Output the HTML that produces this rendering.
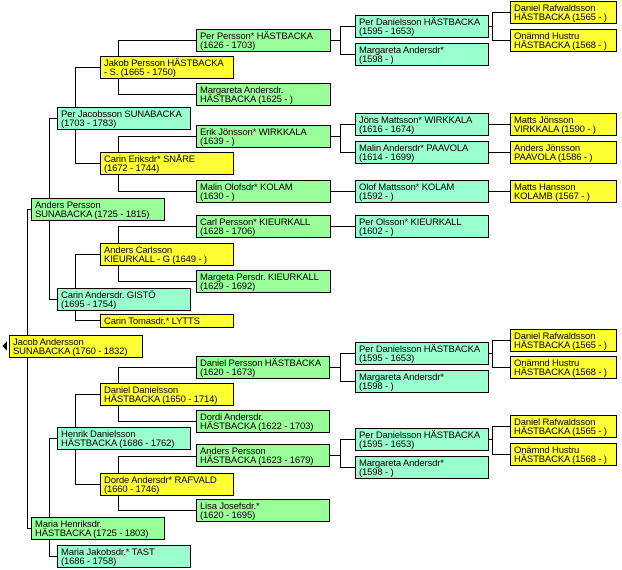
<!DOCTYPE html>
<html><head><meta charset="utf-8"><style>
body{margin:0;background:#fff;width:622px;height:570px;position:relative;overflow:hidden;font-family:"Liberation Sans",sans-serif}
.b{position:absolute;box-sizing:border-box;border:1px solid #000;font-size:9.5px;line-height:9px;padding:2px 0 0 3px;white-space:nowrap;color:#000;letter-spacing:-0.15px;overflow:hidden}
.g{background:#99ff99}.m{background:#99ffcc}.y{background:#ffff33}
svg{position:absolute;left:0;top:0}
</style></head><body>
<svg width="622" height="570" stroke="#000" stroke-width="1" fill="none" shape-rendering="crispEdges">
<polygon points="2,346 7,341 7,351" fill="#000" stroke="none"/>
<path d="M27.5 209.5V528.5 M27 209.5H31 M27 528.5H31"/>
<path d="M49.5 118.5V198 M49 118.5H57 M49.5 220V299.5H57"/>
<path d="M49.5 438.5V517 M49 438.5H57 M49.5 539V556.5H57"/>
<path d="M75.5 67.5V107 M75 67.5H100 M75.5 129V163.5H100"/>
<path d="M75.5 310V320.5H100 M75.5 254.5V288 M75 254.5H100"/>
<path d="M75.5 394.5V427 M75 394.5H100 M75.5 449V484.5H100"/>
<path d="M118.5 40.5V56 M118 40.5H196 M118.5 78V94.5H196"/>
<path d="M118.5 136.5V152 M118 136.5H196 M118.5 174V191.5H196"/>
<path d="M118.5 226.5V243 M118 226.5H196 M118.5 265V281.5H196"/>
<path d="M118.5 367.5V383 M118 367.5H196 M118.5 405V421.5H196"/>
<path d="M118.5 456.5V473 M118 456.5H196 M118.5 495V510.5H196"/>
<path d="M330 40.5H340.5 M340.5 26.5V54.5 M340 26.5H355 M340 54.5H355"/>
<path d="M330 136.5H340.5 M340.5 124.5V152.5 M340 124.5H355 M340 152.5H355"/>
<path d="M330 191.5H355 M330 226.5H355"/>
<path d="M330 367.5H340.5 M340.5 353.5V381.5 M340 353.5H355 M340 381.5H355"/>
<path d="M330 455.5H340.5 M340.5 439.5V467.5 M340 439.5H355 M340 467.5H355"/>
<path d="M488 26.5H492.5 M492.5 12.5V40.5 M492 12.5H510 M492 40.5H510"/>
<path d="M488 124.5H510 M488 152.5H510 M488 191.5H510"/>
<path d="M488 353.5H492.5 M492.5 340.5V367.5 M492 340.5H510 M492 367.5H510"/>
<path d="M488 439.5H492.5 M492.5 426.5V454.5 M492 426.5H510 M492 454.5H510"/>
</svg>

<div class="b y" style="left:9px;top:335px;width:134px;height:23px">Jacob Andersson<br>SUNABACKA (1760 - 1832)</div>

<div class="b g" style="left:31px;top:198px;width:134px;height:23px">Anders Persson<br>SUNABACKA (1725 - 1815)</div>
<div class="b g" style="left:31px;top:517px;width:134px;height:23px">Maria Henriksdr.<br>HÄSTBACKA (1725 - 1803)</div>

<div class="b m" style="left:57px;top:107px;width:134px;height:23px">Per Jacobsson SUNABACKA<br>(1703 - 1783)</div>
<div class="b m" style="left:57px;top:288px;width:134px;height:23px">Carin Andersdr. GISTÖ<br>(1695 - 1754)</div>
<div class="b m" style="left:57px;top:427px;width:134px;height:23px">Henrik Danielsson<br>HÄSTBACKA (1686 - 1762)</div>
<div class="b m" style="left:57px;top:545px;width:134px;height:23px">Maria Jakobsdr.* TAST<br>(1686 - 1758)</div>

<div class="b y" style="left:100px;top:56px;width:134px;height:23px">Jakob Persson HÄSTBACKA<br>- S. (1665 - 1750)</div>
<div class="b y" style="left:100px;top:152px;width:134px;height:23px">Carin Eriksdr* SNÅRE<br>(1672 - 1744)</div>
<div class="b y" style="left:100px;top:243px;width:134px;height:23px">Anders Carlsson<br>KIEURKALL - G (1649 - )</div>
<div class="b y" style="left:100px;top:314px;width:134px;height:14px">Carin Tomasdr.* LYTTS</div>
<div class="b y" style="left:100px;top:383px;width:134px;height:23px">Daniel Danielsson<br>HÄSTBACKA (1650 - 1714)</div>
<div class="b y" style="left:100px;top:473px;width:134px;height:23px">Dorde Andersdr* RAFVALD<br>(1660 - 1746)</div>

<div class="b g" style="left:196px;top:29px;width:135px;height:23px">Per Persson* HÄSTBACKA<br>(1626 - 1703)</div>
<div class="b g" style="left:196px;top:83px;width:135px;height:23px">Margareta Andersdr.<br>HÄSTBACKA (1625 - )</div>
<div class="b g" style="left:196px;top:125px;width:135px;height:23px">Erik Jönsson* WIRKKALA<br>(1639 - )</div>
<div class="b g" style="left:196px;top:180px;width:135px;height:23px">Malin Olofsdr* KOLAM<br>(1630 - )</div>
<div class="b g" style="left:196px;top:215px;width:135px;height:23px">Carl Persson* KIEURKALL<br>(1628 - 1706)</div>
<div class="b g" style="left:196px;top:270px;width:135px;height:23px">Margeta Persdr. KIEURKALL<br>(1629 - 1692)</div>
<div class="b g" style="left:196px;top:356px;width:134px;height:23px">Daniel Persson HÄSTBACKA<br>(1620 - 1673)</div>
<div class="b g" style="left:196px;top:410px;width:134px;height:23px">Dordi Andersdr.<br>HÄSTBACKA (1622 - 1703)</div>
<div class="b g" style="left:196px;top:444px;width:134px;height:23px">Anders Persson<br>HÄSTBACKA (1623 - 1679)</div>
<div class="b g" style="left:196px;top:499px;width:134px;height:23px">Lisa Josefsdr.*<br>(1620 - 1695)</div>

<div class="b m" style="left:355px;top:15px;width:134px;height:23px">Per Danielsson HÄSTBACKA<br>(1595 - 1653)</div>
<div class="b m" style="left:355px;top:43px;width:134px;height:23px">Margareta Andersdr*<br>(1598 - )</div>
<div class="b m" style="left:355px;top:113px;width:134px;height:23px">Jöns Mattsson* WIRKKALA<br>(1616 - 1674)</div>
<div class="b m" style="left:355px;top:141px;width:134px;height:23px">Malin Andersdr* PAAVOLA<br>(1614 - 1699)</div>
<div class="b m" style="left:355px;top:180px;width:134px;height:23px">Olof Mattsson* KOLAM<br>(1592 - )</div>
<div class="b m" style="left:355px;top:215px;width:134px;height:23px">Per Olsson* KIEURKALL<br>(1602 - )</div>
<div class="b m" style="left:355px;top:342px;width:134px;height:23px">Per Danielsson HÄSTBACKA<br>(1595 - 1653)</div>
<div class="b m" style="left:355px;top:370px;width:134px;height:23px">Margareta Andersdr*<br>(1598 - )</div>
<div class="b m" style="left:355px;top:428px;width:134px;height:23px">Per Danielsson HÄSTBACKA<br>(1595 - 1653)</div>
<div class="b m" style="left:355px;top:456px;width:134px;height:23px">Margareta Andersdr*<br>(1598 - )</div>

<div class="b y" style="left:510px;top:1px;width:107px;height:23px">Daniel Rafwaldsson<br>HÄSTBACKA (1565 - )</div>
<div class="b y" style="left:510px;top:29px;width:107px;height:23px">Onämnd Hustru<br>HÄSTBACKA (1568 - )</div>
<div class="b y" style="left:510px;top:113px;width:107px;height:23px">Matts Jönsson<br>VIRKKALA (1590 - )</div>
<div class="b y" style="left:510px;top:141px;width:107px;height:23px">Anders Jönsson<br>PAAVOLA (1586 - )</div>
<div class="b y" style="left:510px;top:180px;width:107px;height:23px">Matts Hansson<br>KOLAMB (1567 - )</div>
<div class="b y" style="left:510px;top:329px;width:107px;height:23px">Daniel Rafwaldsson<br>HÄSTBACKA (1565 - )</div>
<div class="b y" style="left:510px;top:356px;width:107px;height:23px">Onämnd Hustru<br>HÄSTBACKA (1568 - )</div>
<div class="b y" style="left:510px;top:415px;width:107px;height:23px">Daniel Rafwaldsson<br>HÄSTBACKA (1565 - )</div>
<div class="b y" style="left:510px;top:443px;width:107px;height:23px">Onämnd Hustru<br>HÄSTBACKA (1568 - )</div>
</body></html>
